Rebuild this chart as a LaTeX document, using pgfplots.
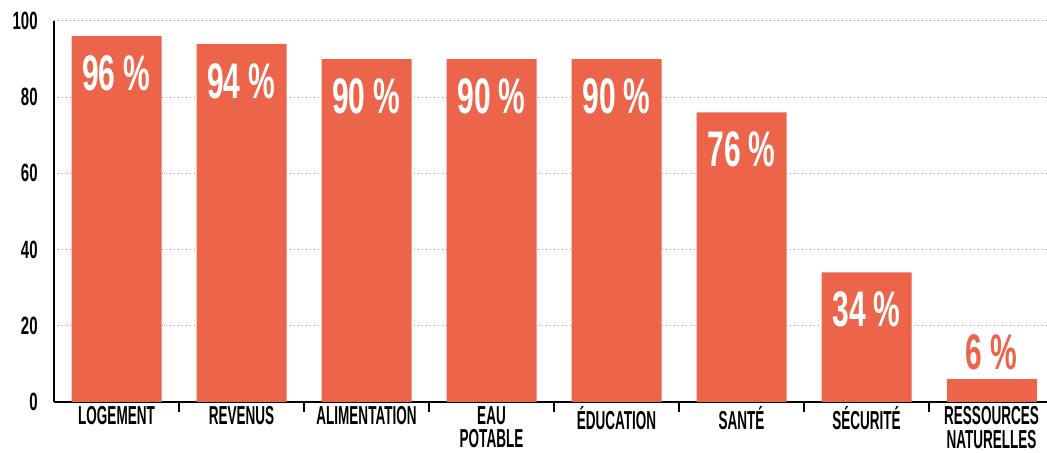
\documentclass[border=0pt]{standalone}
\usepackage{fontspec}
\usepackage{pgfplots}
\pgfplotsset{compat=1.18}
\newfontfamily\catfont{Liberation Sans}[FakeStretch=0.52]
\newfontfamily\numfont{Liberation Sans}[FakeStretch=0.6]
\definecolor{barred}{RGB}{236,101,75}

\begin{document}
\begin{tikzpicture}
\begin{axis}[
    at={(0,0)}, anchor=south west,
    scale only axis,
    width=496.5pt, height=190.5pt,
    xmin=-0.5, xmax=7.444,
    ymin=0, ymax=100,
    axis x line*=bottom, axis y line*=left,
    axis line style={black, line width=0.7pt},
    xtick={0,...,7},
    xticklabels={LOGEMENT, REVENUS, ALIMENTATION, {EAU\\POTABLE}, ÉDUCATION, SANTÉ, SÉCURITÉ, {RESSOURCES\\NATURELLES}},
    xticklabel style={font=\catfont\bfseries\fontsize{13}{11.8}\selectfont, align=center, anchor=north, inner sep=0pt, yshift=-2pt},
    minor xtick={0.5,1.5,...,6.5},
    minor tick length=5pt, major tick length=0pt,
    tick align=inside,
    minor tick style={black, line width=0.6pt},
    ytick={0,20,...,100},
    /pgf/number format/assume math mode=true,
    yticklabel style={font=\numfont\bfseries\fontsize{12.5}{14}\selectfont, anchor=east, inner sep=0pt, xshift=-8pt},
    ymajorgrids,
    grid style={gray!80, line width=0.5pt, dash pattern=on 0.6pt off 1.4pt},
    ybar, bar width=0.72,
    clip=false,
]
\addplot[fill=barred, draw=none, bar shift=0pt,
    nodes near coords={\pgfmathprintnumber{\pgfplotspointmeta}\,\%},
    every node near coord/.append style={font=\numfont\bfseries\fontsize{25}{28}\selectfont, text=white, anchor=north, inner sep=0pt, yshift=-9.5pt}]
  coordinates {(0,96) (1,94) (2,90) (3,90) (4,90) (5,76) (6,34)};
\addplot[fill=barred, draw=none, bar shift=0pt,
    nodes near coords={\pgfmathprintnumber{\pgfplotspointmeta}\,\%},
    every node near coord/.append style={font=\numfont\bfseries\fontsize{25}{28}\selectfont, text=barred, anchor=south, inner sep=0pt, yshift=4.5pt}]
  coordinates {(7,6)};
\end{axis}
\pgfresetboundingbox
\useasboundingbox (-27pt,-25.5pt) rectangle (496.5pt,201pt);
\end{tikzpicture}
\end{document}
